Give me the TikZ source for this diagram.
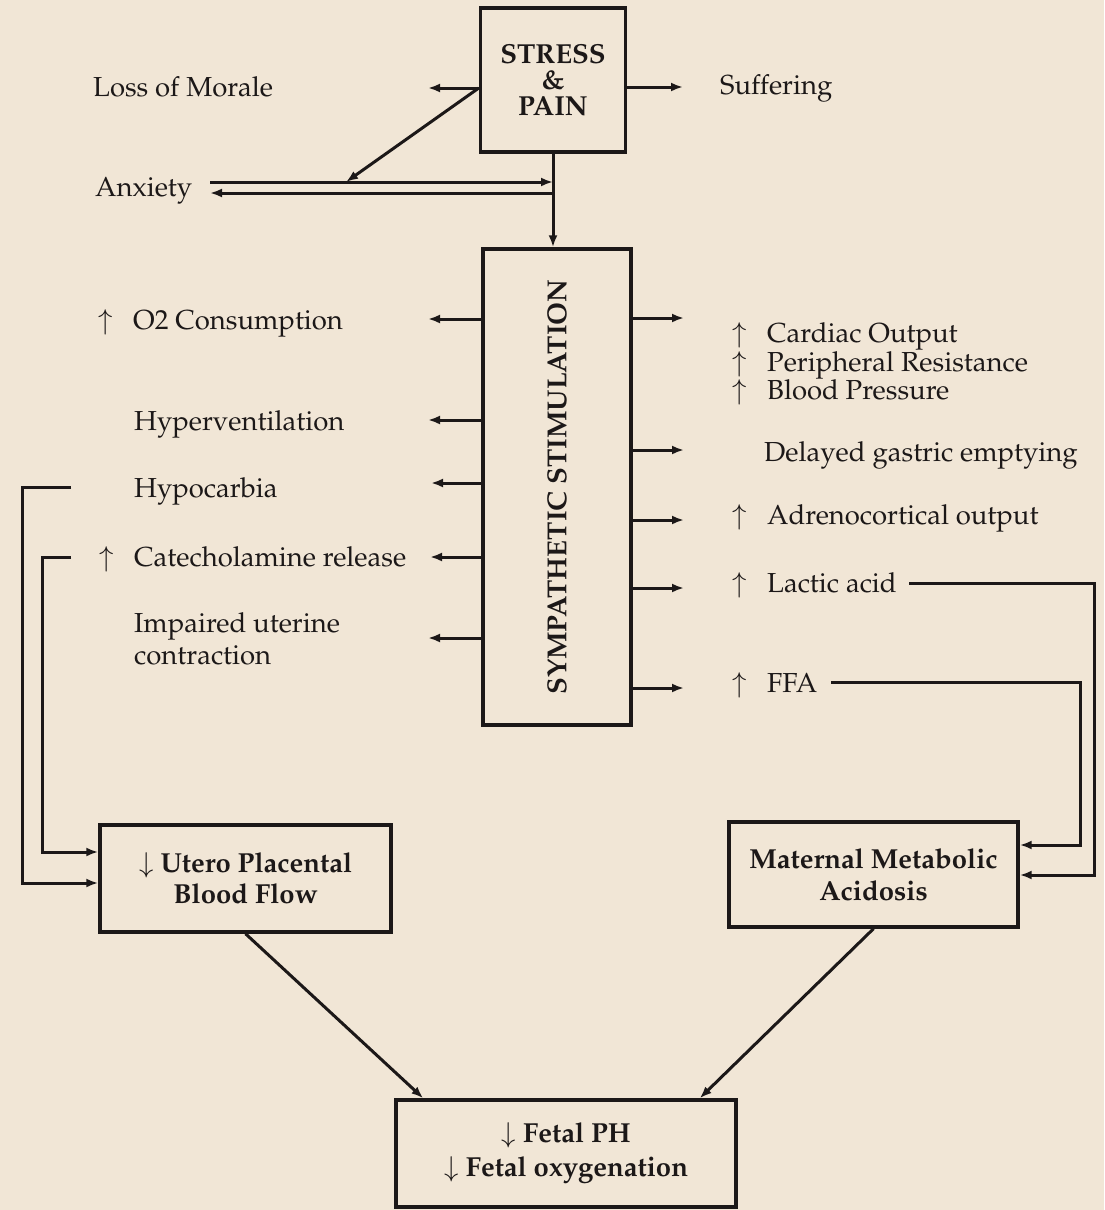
\documentclass[tikz,border=0pt]{standalone}
\usepackage[T1]{fontenc}
\usepackage{mathpazo}
\usepackage{tikz}
\usetikzlibrary{positioning, arrows.meta}
\definecolor{paper}{RGB}{241,230,214}
\definecolor{ink}{RGB}{28,24,24}
\tikzstyle{boite}=[rectangle, draw=ink, text=ink, line width=3.4pt, align=center, inner sep=0pt]
\tikzstyle{txt}=[anchor=base west, inner sep=0pt, text=ink, font=\fontsize{27.5}{24}\selectfont]
\tikzstyle{wire}=[draw=ink, line width=3pt]
\tikzstyle{fleche}=[wire, -{Latex[length=12pt, width=9pt]}]
\newcommand{\hausse}{\makebox[35pt][l]{$\uparrow$}}

\begin{document}
\begin{tikzpicture}[x=1pt, y=-1pt]
                \fill[paper] (0,0) rectangle (1104,1210);
                \useasboundingbox (0,0) rectangle (1104,1210);

                % Boites
                \node[boite, minimum width=145pt, minimum height=144pt, font=\bfseries\fontsize{27.5}{26}\selectfont] (stress) at (553,80) {STRESS\\\&\\PAIN};
                \node[boite, minimum width=148pt, minimum height=476pt] (symp) at (557,487) {};
                \node[rotate=90, text=ink, inner sep=0pt, font=\bfseries\fontsize{27.5}{32}\selectfont] (symptxt) at (symp.center) {SYMPATHETIC STIMULATION};
                \node[boite, minimum width=291pt, minimum height=107pt, font=\bfseries\fontsize{27.5}{31}\selectfont] (utero) at (245.5,878.5) {$\downarrow$ Utero Placental\\Blood Flow};
                \node[boite, minimum width=289pt, minimum height=105pt, font=\bfseries\fontsize{27.5}{32}\selectfont] (maternal) at (873.5,874.5) {Maternal Metabolic\\Acidosis};
                \node[boite, minimum width=340pt, minimum height=107pt, font=\bfseries\fontsize{27.5}{34}\selectfont] (fetal) at (566,1153.5) {$\downarrow$ Fetal PH\\$\downarrow$ Fetal oxygenation};

                % Textes a gauche
                \node[txt] (morale) at (93,96) {Loss of Morale};
                \node[txt] (anx) at (95,196) {Anxiety};
                \node[txt] (o2) at (98,329) {\hausse O2 Consumption};
                \node[txt] (hyper) at (134,430) {Hyperventilation};
                \node[txt] (hypo) at (134,497) {Hypocarbia};
                \node[txt] (cat) at (99,566) {\hausse Catecholamine release};
                \node[txt, anchor=west, align=left, font=\fontsize{27.5}{32}\selectfont] (uter) at (134,639) {Impaired uterine\\contraction};

                % Textes a droite
                \node[txt] (suff) at (720,94) {Suffering};
                \node[txt, anchor=west, align=left] (card) at (732,364) {\hausse Cardiac Output\\\hausse Peripheral Resistance\\\hausse Blood Pressure};
                \node[txt] (gast) at (764,461) {Delayed gastric emptying};
                \node[txt] (adren) at (732,524) {\hausse Adrenocortical output};
                \node[txt] (lact) at (732,592) {\hausse Lactic acid};
                \node[txt] (ffa) at (732,692) {\hausse FFA};

                % Points
                \coordinate (moraleA) at (428,88);
                \coordinate (suffA) at (683,87);
                \coordinate (anxH) at (210,182);
                \coordinate (anxB) at (210,193);
                \coordinate (anxD) at (346,182);
                \coordinate (o2A) at (428,319);
                \coordinate (hyperA) at (428,420);
                \coordinate (hypoA) at (431,483);
                \coordinate (catA) at (430,557);
                \coordinate (uterA) at (428,638);
                \coordinate (cardA) at (684,318);
                \coordinate (gastA) at (684,450);
                \coordinate (adrenA) at (684,520);
                \coordinate (lactA) at (684,588);
                \coordinate (ffaA) at (684,688);
                \coordinate (hypoD) at (71,487);
                \coordinate (hypoF) at (22,883);
                \coordinate (catD) at (71,557);
                \coordinate (catF) at (42,852);
                \coordinate (lactD) at (909,583);
                \coordinate (lactF) at (1094,875);
                \coordinate (ffaD) at (831,682);
                \coordinate (ffaF) at (1080,845);

                % Fleches du haut
                \draw[fleche] (stress.west |- moraleA) -- (moraleA);
                \draw[fleche] (stress.west |- moraleA) -- (anxD);
                \draw[fleche] (stress.east |- suffA) -- (suffA);
                \draw[fleche] (anxH) -- (stress.south |- anxH);
                \draw[fleche] (stress.south |- anxB) -- (anxB);
                \draw[fleche] (stress.south) -- (stress.south |- symp.north);

                % Fleches de la stimulation
                \draw[fleche] (symp.west |- o2A) -- (o2A);
                \draw[fleche] (symp.west |- hyperA) -- (hyperA);
                \draw[fleche] (symp.west |- hypoA) -- (hypoA);
                \draw[fleche] (symp.west |- catA) -- (catA);
                \draw[fleche] (symp.west |- uterA) -- (uterA);
                \draw[fleche] (symp.east |- cardA) -- (cardA);
                \draw[fleche] (symp.east |- gastA) -- (gastA);
                \draw[fleche] (symp.east |- adrenA) -- (adrenA);
                \draw[fleche] (symp.east |- lactA) -- (lactA);
                \draw[fleche] (symp.east |- ffaA) -- (ffaA);

                % Retours
                \draw[fleche] (hypoD) -| (hypoF) -- (utero.west |- hypoF);
                \draw[fleche] (catD) -| (catF) -- (utero.west |- catF);
                \draw[fleche] (lactD) -| (lactF) -- (maternal.east |- lactF);
                \draw[fleche] (ffaD) -| (ffaF) -- (maternal.east |- ffaF);

                % Vers le foetus
                \draw[fleche] (utero.south) -- ([xshift=29pt]fetal.north west);
                \draw[fleche] (maternal.south) -- ([xshift=-38pt]fetal.north east);
            \end{tikzpicture}
\end{document}
